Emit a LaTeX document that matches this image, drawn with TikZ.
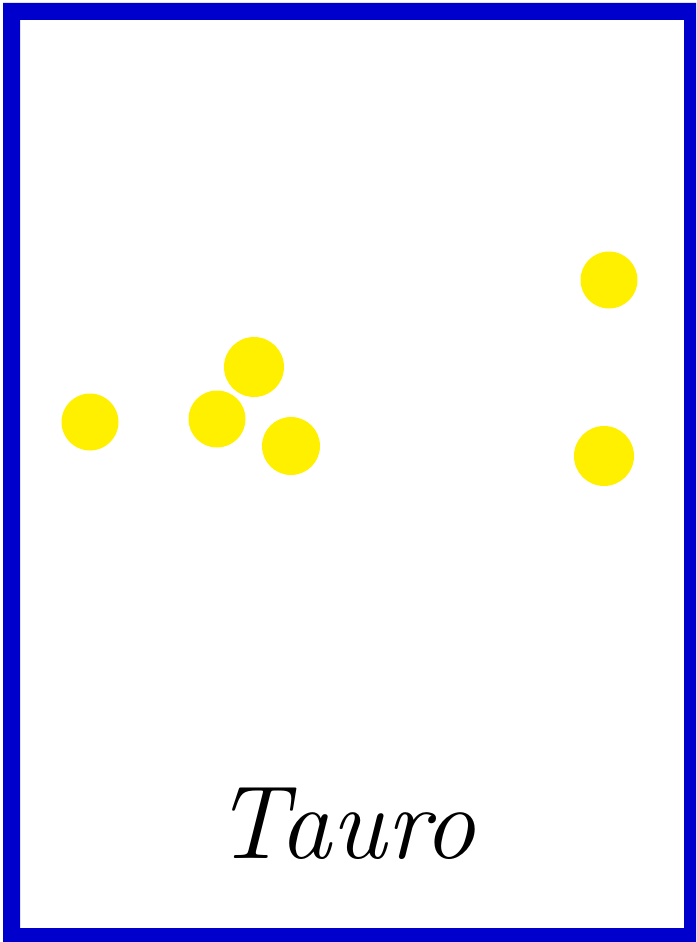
\documentclass[tikz,border=0pt]{standalone}
\usepackage{tikz}
\definecolor{marco}{RGB}{0,0,204}
\definecolor{amarillo}{RGB}{255,240,0}

\begin{document}
\begin{tikzpicture}[x=1pt, y=-1pt, estrella/.style={circle, fill=amarillo, inner sep=0pt, minimum size=#1}]
  \useasboundingbox (0,0) rectangle (696,942);
  % marco azul
  \fill[marco, even odd rule] (3,3) rectangle (696,942) (20,20) rectangle (684,928);
  % estrellas de Tauro
  \node[estrella=57pt] (s1) at (90,422) {};
  \node[estrella=57pt] (s2) at (217,419) {};
  \node[estrella=60pt] (s3) at (254,367) {};
  \node[estrella=58pt] (s4) at (291,446) {};
  \node[estrella=57pt] (s5) at (609,280) {};
  \node[estrella=60pt] (s6) at (604,456) {};
  % nombre
  \node[anchor=base, inner sep=0pt, font=\fontsize{104}{110}\selectfont\itshape] (nombre) at (345,858) {Tauro};
\end{tikzpicture}
\end{document}
